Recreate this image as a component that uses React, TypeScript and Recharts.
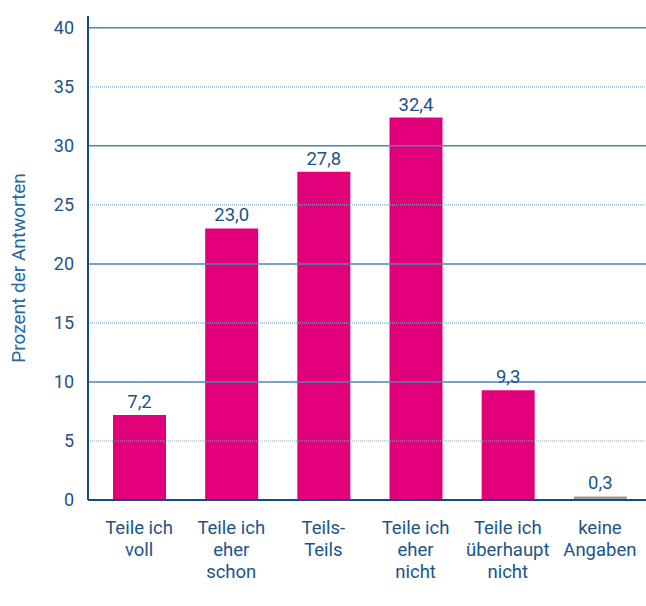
import React from 'react';
import { BarChart, Bar, XAxis, YAxis, ReferenceLine, LabelList, Cell } from 'recharts';

// Antwortkategorien (Zeilen der Achsenbeschriftung)
const categories = [
  ['Teile ich', 'voll'],
  ['Teile ich', 'eher', 'schon'],
  ['Teils-', 'Teils'],
  ['Teile ich', 'eher', 'nicht'],
  ['Teile ich', 'überhaupt', 'nicht'],
  ['keine', 'Angaben'],
];
const shares = [7.2, 23.0, 27.8, 32.4, 9.3, 0.3];
const yTicks = [0, 5, 10, 15, 20, 25, 30, 35, 40];

const MAGENTA = '#e2007a';
const GREY = '#9a9a9a';
const BLUE = '#1b548a';
const FONT = 'Roboto, "Noto Sans", sans-serif';

const data = categories.map((lines, i) => ({
  key: lines.join(' '),
  value: shares[i],
  fill: i === categories.length - 1 ? GREY : MAGENTA,
}));

const fmt = (v: number) => v.toFixed(1).replace('.', ',');

const CategoryTick = (props: any) => {
  const { x, y, index } = props;
  const lines = categories[index] ?? [];
  return (
    <text x={x} y={y} textAnchor="middle" fill={BLUE} fontSize={18.5} fontFamily={FONT}>
      {lines.map((l, i) => (
        <tspan key={i} x={x} dy={i === 0 ? 26 : 22}>
          {l}
        </tspan>
      ))}
    </text>
  );
};

const AxisTitle = () => (
  <text
    x={18}
    y={268}
    transform="rotate(-90 18 268)"
    textAnchor="middle"
    dominantBaseline="central"
    fill="#2766a0"
    fontSize={19}
    fontFamily={FONT}
  >
    Prozent der Antworten
  </text>
);

export default function App() {
  return (
    <div style={{ position: 'fixed', left: 0, top: 0, width: 646, height: 606, background: '#fff' }}>
      <BarChart
        width={646}
        height={606}
        data={data}
        margin={{ top: 16, right: 0, bottom: 16, left: 8 }}
        barCategoryGap={0}
      >
        {yTicks
          .filter((t) => t > 0)
          .map((t) => (
            <ReferenceLine
              key={t}
              y={t}
              stroke={t % 10 === 0 ? '#4f84b3' : '#86a9c8'}
              strokeWidth={t % 10 === 0 ? 1.5 : 1.2}
              strokeDasharray={t % 10 === 0 ? undefined : '1 1'}
            />
          ))}
        <XAxis
          dataKey="key"
          interval={0}
          tick={<CategoryTick />}
          tickLine={false}
          axisLine={{ stroke: '#174a7e', strokeWidth: 2 }}
          padding={{ left: 5, right: 0 }}
          height={90}
        />
        <YAxis
          domain={[0, 41]}
          ticks={yTicks}
          interval={0}
          tickLine={false}
          tickSize={0}
          tickMargin={14}
          axisLine={{ stroke: '#174a7e', strokeWidth: 2 }}
          tick={{ fill: BLUE, fontSize: 18, fontFamily: FONT }}
          width={80}
          label={<AxisTitle />}
        />
        <Bar dataKey="value" barSize={53} isAnimationActive={false}>
          {data.map((d) => (
            <Cell key={d.key} fill={d.fill} />
          ))}
          <LabelList
            dataKey="value"
            position="top"
            offset={7}
            formatter={(v: any) => fmt(Number(v))}
            fill={BLUE}
            fontSize={18.5}
            fontFamily={FONT}
          />
        </Bar>
      </BarChart>
    </div>
  );
}
